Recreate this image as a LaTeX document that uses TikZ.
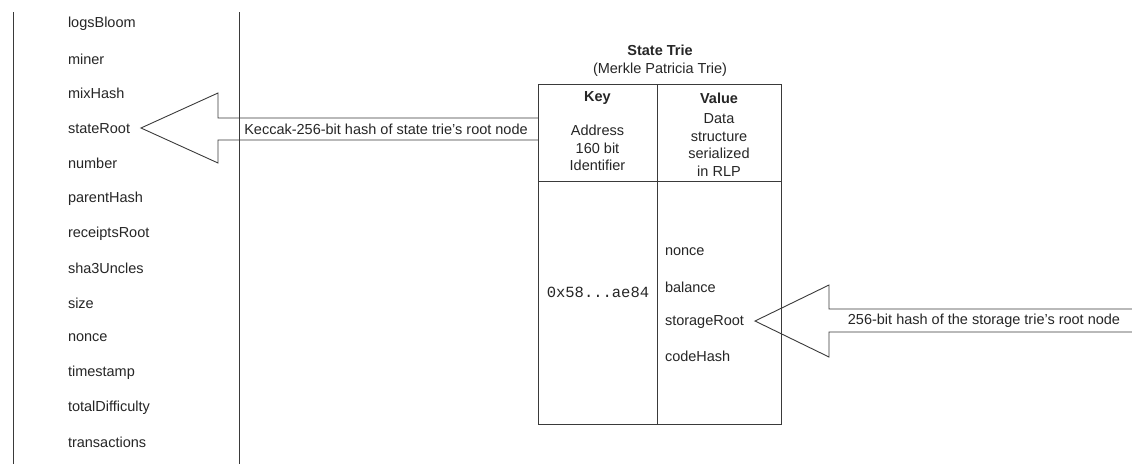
\documentclass[tikz,border=0pt]{standalone}
\usepackage{fontspec}
\setmainfont{Liberation Sans}
\newfontfamily\monofnt{Liberation Mono}
\definecolor{ln}{HTML}{3A3A3A}
\definecolor{tx}{HTML}{262626}
\begin{document}
\begin{tikzpicture}[x=1pt,y=-1pt,
  every node/.style={inner sep=0pt,outer sep=0pt,text=tx,font=\fontsize{14.5}{17.5}\selectfont},
  fld/.style={anchor=west},
  ctr/.style={align=center,anchor=center},
  bold/.style={font=\fontsize{14.5}{17.5}\selectfont\bfseries},
  lnst/.style={draw=ln,line width=0.9pt},
  blockarrow/.style={draw=ln,line width=0.9pt,line join=miter}]
\useasboundingbox (0,0) rectangle (1132,464);
\fill[white] (0,0) rectangle (1132,464);
% vertical lines
\draw[lnst] (13,12) -- (13,464);
\draw[lnst] (239,12) -- (239,464);
% header fields
\foreach \n/\t [count=\i from 0] in {logsBloom/logsBloom,miner/miner,mixHash/mixHash,stateRoot/stateRoot,number/number,parentHash/parentHash,receiptsRoot/receiptsRoot,sha3Uncles/sha3Uncles,size/size,nonceH/nonce,timestamp/timestamp,totalDifficulty/totalDifficulty,transactions/transactions}
  \node[fld] (\n) at (68,{24+34.9*\i}) {\t};
% table
\node[bold] (title) at (660,50) {State Trie};
\node (subtitle) at (660,70) {(Merkle Patricia Trie)};
\draw[lnst] (538,84) rectangle (781,424);
\draw[lnst] (657,84) -- (657,424);
\draw[lnst] (538,181) -- (781,181);
\node[bold] (keyh) at (597.5,98) {Key};
\node[bold] (valh) at (719,98) {Value};
\node[ctr] (keyd) at (597.5,148) {Address\\160 bit\\Identifier};
\node[ctr] (vald) at (719,145) {Data\\structure\\serialized\\in RLP};
\node (addr) at (598,292) {\monofnt\fontsize{15.5}{17}\selectfont 0x58...ae84};
\node[fld] (vnonce) at (665,252) {nonce};
\node[fld] (vbal) at (665,287) {balance};
\node[fld] (vstor) at (665,322) {storageRoot};
\node[fld] (vcode) at (665,356) {codeHash};
% left block arrow
\coordinate (lt) at (141,128);
\draw[blockarrow] (538,118) -- (218,118) -- (218,93) -- (lt) -- (218,163) -- (218,140) -- (538,140);
\node (lab1) at (386,129) {Keccak-256-bit hash of state trie's root node};
% right block arrow
\coordinate (rt) at (755,321);
\draw[blockarrow] (1132,309) -- (829,309) -- (829,285) -- (rt) -- (829,357) -- (829,332) -- (1132,332);
\node (lab2) at (984,321) {256-bit hash of the storage trie's root node};
\end{tikzpicture}
\end{document}
